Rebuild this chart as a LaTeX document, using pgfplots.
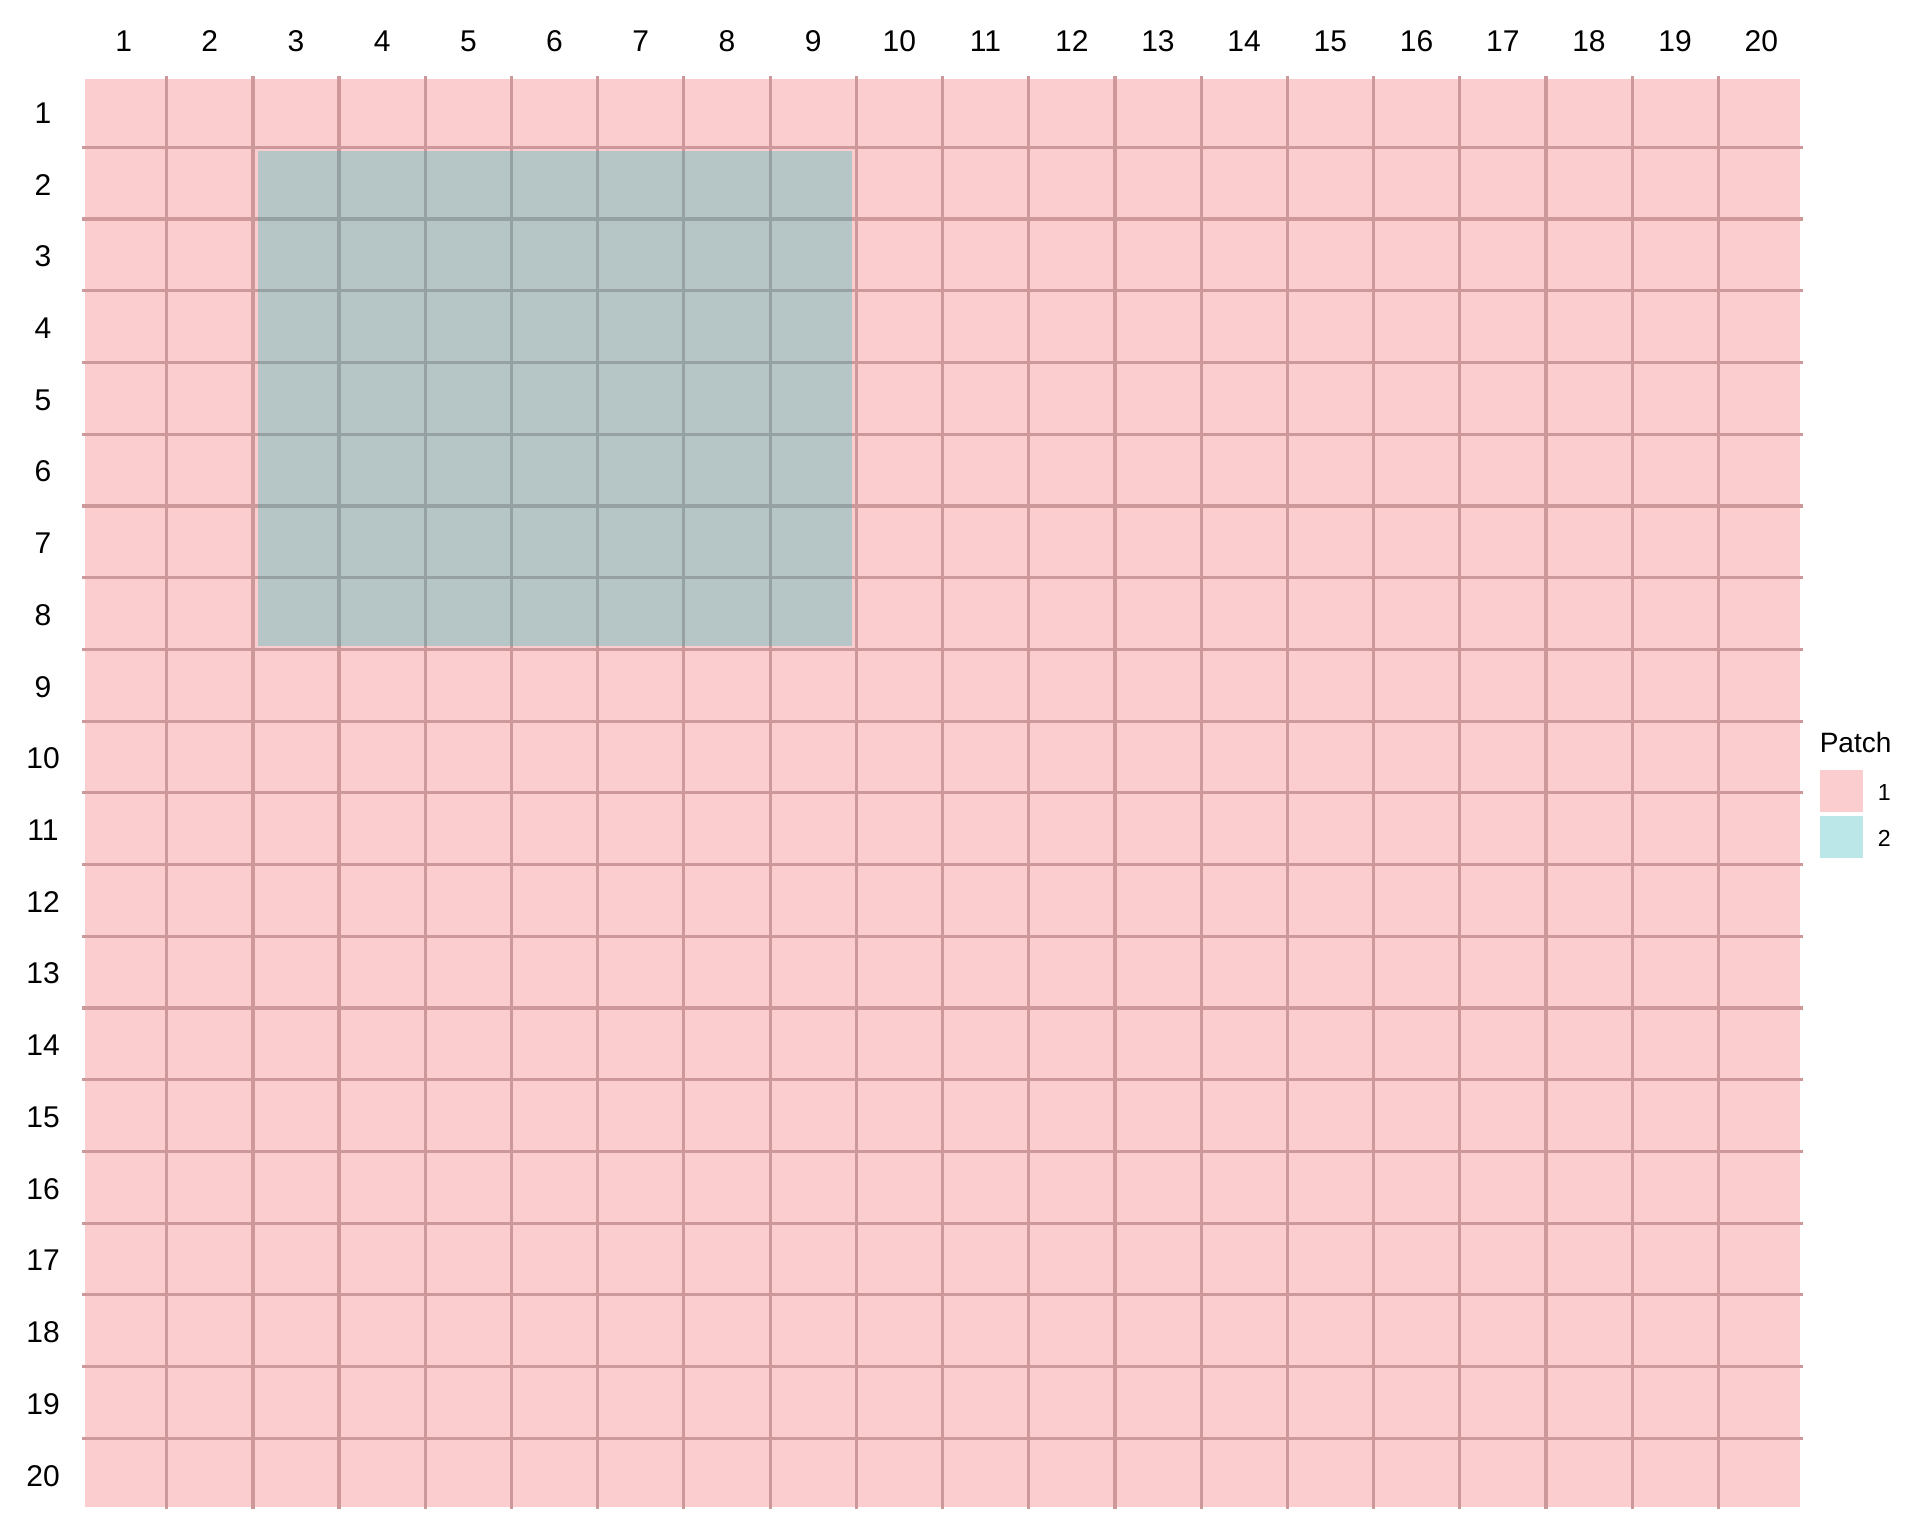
\documentclass[border=0pt]{standalone}
\usepackage{pgfplots}
\pgfplotsset{compat=1.18}
\usepackage{fontspec}
\setmainfont{Liberation Sans}
\definecolor{patchA}{RGB}{251,205,206}
\definecolor{patchB}{RGB}{24,185,183}
\definecolor{gridc}{RGB}{204,152,154}
\definecolor{patchBkey}{RGB}{188,231,233}
\begin{document}
\begin{tikzpicture}
\useasboundingbox (0,0) rectangle (480pt,384pt);
\begin{axis}[
  at={(235.625pt,185.75pt)}, anchor=center,
  width=428.75pt, height=357pt, scale only axis,
  xmin=0.5, xmax=20.5, ymin=0.5, ymax=20.5, y dir=reverse,
  clip=false, axis on top,
  axis line style={draw=none},
  major tick length=0pt,
  xtick={0.950,1.955,2.961,3.966,4.971,5.976,6.982,7.987,8.992,9.997,11.002,12.008,13.013,14.018,15.023,16.029,17.034,18.039,19.044,20.050},
  xticklabels={1,2,3,4,5,6,7,8,9,10,11,12,13,14,15,16,17,18,19,20},
  ytick={0.976,1.980,2.985,3.989,4.994,5.998,7.003,8.007,9.012,10.016,11.021,12.025,13.030,14.034,15.039,16.043,17.048,18.052,19.057,20.061},
  yticklabels={1,2,3,4,5,6,7,8,9,10,11,12,13,14,15,16,17,18,19,20},
  xticklabel pos=upper, yticklabel pos=left,
  xticklabel style={anchor=base, inner sep=0pt, yshift=6.83pt, font=\fontsize{7.5}{9}\selectfont},
  yticklabel style={anchor=center, inner sep=0pt, xshift=-10.5pt, font=\fontsize{7.5}{9}\selectfont},
  unbounded coords=jump,
]
% Patch 1 (background tiles)
\addplot[fill=patchA, draw=none] coordinates {(0.5,0.5) (20.5,0.5) (20.5,20.5) (0.5,20.5)} -- cycle;
% vertical grid lines
\addplot[draw=gridc, line width=0.8pt] coordinates {
(1.453,0.458) (1.453,20.528) (1.453,nan)
(2.458,0.458) (2.458,20.528) (2.458,nan)
(3.463,0.458) (3.463,20.528) (3.463,nan)
(4.469,0.458) (4.469,20.528) (4.469,nan)
(5.474,0.458) (5.474,20.528) (5.474,nan)
(6.479,0.458) (6.479,20.528) (6.479,nan)
(7.484,0.458) (7.484,20.528) (7.484,nan)
(8.490,0.458) (8.490,20.528) (8.490,nan)
(9.495,0.458) (9.495,20.528) (9.495,nan)
(10.500,0.458) (10.500,20.528) (10.500,nan)
(11.505,0.458) (11.505,20.528) (11.505,nan)
(12.511,0.458) (12.511,20.528) (12.511,nan)
(13.516,0.458) (13.516,20.528) (13.516,nan)
(14.521,0.458) (14.521,20.528) (14.521,nan)
(15.526,0.458) (15.526,20.528) (15.526,nan)
(16.532,0.458) (16.532,20.528) (16.532,nan)
(17.537,0.458) (17.537,20.528) (17.537,nan)
(18.542,0.458) (18.542,20.528) (18.542,nan)
(19.547,0.458) (19.547,20.528)
};
% horizontal grid lines
\addplot[draw=gridc, line width=0.8pt] coordinates {
(0.465,1.457) (20.535,1.457) (nan,1.457)
(0.465,2.461) (20.535,2.461) (nan,2.461)
(0.465,3.466) (20.535,3.466) (nan,3.466)
(0.465,4.470) (20.535,4.470) (nan,4.470)
(0.465,5.475) (20.535,5.475) (nan,5.475)
(0.465,6.479) (20.535,6.479) (nan,6.479)
(0.465,7.484) (20.535,7.484) (nan,7.484)
(0.465,8.488) (20.535,8.488) (nan,8.488)
(0.465,9.493) (20.535,9.493) (nan,9.493)
(0.465,10.497) (20.535,10.497) (nan,10.497)
(0.465,11.502) (20.535,11.502) (nan,11.502)
(0.465,12.506) (20.535,12.506) (nan,12.506)
(0.465,13.511) (20.535,13.511) (nan,13.511)
(0.465,14.515) (20.535,14.515) (nan,14.515)
(0.465,15.520) (20.535,15.520) (nan,15.520)
(0.465,16.524) (20.535,16.524) (nan,16.524)
(0.465,17.529) (20.535,17.529) (nan,17.529)
(0.465,18.533) (20.535,18.533) (nan,18.533)
(0.465,19.538) (20.535,19.538)
};
% Patch 2 (columns 3-9, rows 2-8), translucent over the grid
\addplot[fill=patchB, fill opacity=0.3, draw=none] coordinates {(2.521,1.504) (9.445,1.504) (9.445,8.437) (2.521,8.437)} -- cycle;
\end{axis}
% legend
\node[anchor=base west, inner sep=0pt, font=\fontsize{7}{8.4}\selectfont] at (454.75pt,196pt) {Patch};
\fill[patchA] (455pt,181.1pt) rectangle (465.67pt,191.5pt);
\fill[patchBkey] (455pt,169.6pt) rectangle (465.67pt,180pt);
\node[anchor=base west, inner sep=0pt, font=\fontsize{5.8}{7}\selectfont] at (469.25pt,184pt) {1};
\node[anchor=base west, inner sep=0pt, font=\fontsize{5.8}{7}\selectfont] at (469.25pt,172.3pt) {2};
\end{tikzpicture}
\end{document}
